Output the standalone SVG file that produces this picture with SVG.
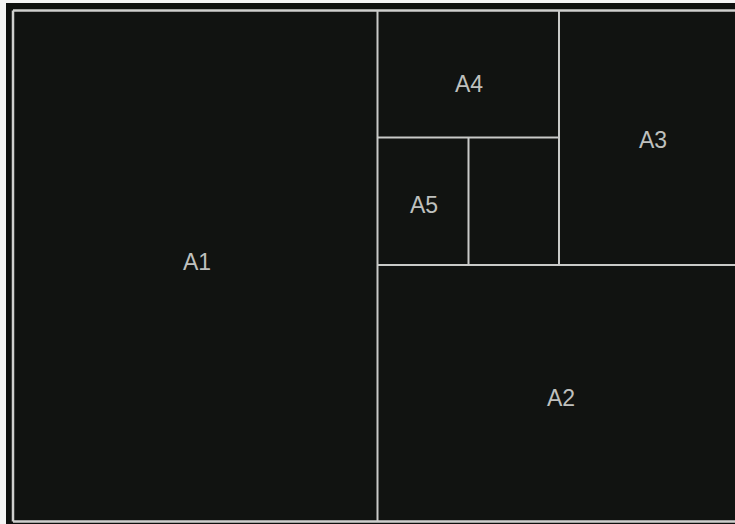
<svg xmlns="http://www.w3.org/2000/svg" width="735" height="524" viewBox="0 0 735 524">
<style>
.ln{stroke:#c9cac8;stroke-width:2;fill:none}
.bd{stroke:#cfd0ce;stroke-width:2.5;fill:none}
.lb{font-family:"Liberation Sans",Arial,sans-serif;font-size:23px;fill:#bfc0be;text-anchor:middle}
</style>
<rect x="0" y="0" width="735" height="524" fill="#f4f4f4"/>
<rect x="6" y="3" width="729" height="521" fill="#0e100e"/>
<rect x="13" y="10.5" width="722" height="511" fill="#111311"/>
<g id="connectors">
<path class="bd" d="M13,10.5 H735 M13,10.5 V521.5 M13,521.5 H735"/>
<path class="ln" d="M377.5,10.5 V521.5 M377.5,265 H735 M559,10.5 V265 M377.5,137.5 H559 M468.5,137.5 V265"/>
</g>
<g id="A1"><text class="lb" x="197" y="270">A1</text></g>
<g id="A2"><text class="lb" x="561" y="406">A2</text></g>
<g id="A3"><text class="lb" x="653" y="148">A3</text></g>
<g id="A4"><text class="lb" x="469" y="92">A4</text></g>
<g id="A5"><text class="lb" x="424" y="213">A5</text></g>
</svg>
